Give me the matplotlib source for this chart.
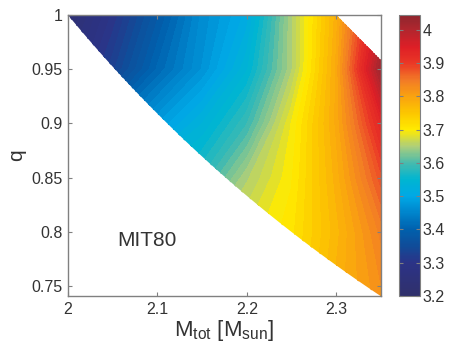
import numpy as np
import matplotlib
matplotlib.use("Agg")
import matplotlib.pyplot as plt
from matplotlib.colors import LinearSegmentedColormap, Normalize
from matplotlib.patches import Polygon
import matplotlib.cm as cm

plt.rcParams['font.family'] = ['Liberation Sans', 'DejaVu Sans']
plt.rcParams['mathtext.fontset'] = 'custom'
plt.rcParams['mathtext.rm'] = 'Liberation Sans'
plt.rcParams['mathtext.it'] = 'Liberation Sans:italic'

# ---- data ----
M_grid = [2.0, 2.05, 2.1, 2.15, 2.2, 2.25, 2.3, 2.35]
q_grid = [0.74, 0.8, 0.85, 0.9, 0.95, 1.0]
Z_q074 = [3.55, 3.58, 3.62, 3.66, 3.69, 3.72, 3.78, 3.82]
Z_q080 = [3.50, 3.55, 3.60, 3.64, 3.68, 3.71, 3.77, 3.84]
Z_q085 = [3.45, 3.50, 3.55, 3.58, 3.65, 3.70, 3.78, 3.88]
Z_q090 = [3.36, 3.42, 3.48, 3.53, 3.59, 3.69, 3.79, 3.93]
Z_q095 = [3.26, 3.33, 3.41, 3.47, 3.54, 3.65, 3.79, 4.02]
Z_q100 = [3.23, 3.30, 3.38, 3.46, 3.51, 3.65, 3.78, 3.97]
m2_min = 1.0
m2_max = 1.15
cbar_ticks = [3.2, 3.3, 3.4, 3.5, 3.6, 3.7, 3.8, 3.9, 4.0]
x_ticks = [2.0, 2.1, 2.2, 2.3]
y_ticks = [0.75, 0.8, 0.85, 0.9, 0.95, 1.0]
vmin, vmax = 3.2, 4.045

Z = np.array([Z_q074, Z_q080, Z_q085, Z_q090, Z_q095, Z_q100])
Mg, Qg = np.meshgrid(M_grid, q_grid)

stops = [
    (0.000, (0.19, 0.19, 0.42)),
    (0.118, (0.17, 0.20, 0.53)),
    (0.178, (0.06, 0.30, 0.60)),
    (0.237, (0.00, 0.38, 0.68)),
    (0.296, (0.00, 0.52, 0.80)),
    (0.355, (0.00, 0.66, 0.90)),
    (0.414, (0.00, 0.71, 0.82)),
    (0.473, (0.28, 0.73, 0.68)),
    (0.533, (0.68, 0.81, 0.48)),
    (0.592, (1.00, 0.92, 0.00)),
    (0.651, (0.99, 0.78, 0.00)),
    (0.710, (0.98, 0.64, 0.06)),
    (0.769, (0.95, 0.48, 0.15)),
    (0.828, (0.92, 0.22, 0.15)),
    (0.888, (0.87, 0.12, 0.15)),
    (0.947, (0.70, 0.15, 0.18)),
    (1.000, (0.56, 0.15, 0.18)),
]
cmap = LinearSegmentedColormap.from_list("printjet", stops)
norm = Normalize(vmin=vmin, vmax=vmax)

fig = plt.figure(figsize=(4.63, 3.57), dpi=100)
ax = fig.add_axes([68/463, 1-296/357, (381-68)/463, (296-15)/357])
cax = fig.add_axes([399/463, 1-296/357, 21/463, (296-15)/357])

levels = np.linspace(vmin, vmax, 70)
cs = ax.contourf(Mg, Qg, Z, levels=levels, cmap=cmap, norm=norm)
cs.set_edgecolor('face')
cs.set_linewidth(0.6)

# domain: m2_min <= m2 <= m2_max, q<=1
Mx = 2.35
q_low = lambda M: m2_min / (M - m2_min)
q_high = lambda M: m2_max / (M - m2_max)
Mc = 2 * m2_max
curve_M = np.linspace(Mx, 2 * m2_min, 60)
verts = [(2 * m2_min, 1.0), (Mc, 1.0), (Mx, q_high(Mx))]
verts += [(m, q_low(m)) for m in curve_M]
poly = Polygon(verts, closed=True, transform=ax.transData, facecolor='none', edgecolor='none')
ax.add_patch(poly)
cs.set_clip_path(poly)

ax.set_xlim(2.0, 2.35)
ax.set_ylim(0.741, 1.0)
ax.set_xticks(x_ticks)
ax.set_xticklabels(['2', '2.1', '2.2', '2.3'])
ax.set_yticks(y_ticks)
ax.set_yticklabels(['0.75', '0.8', '0.85', '0.9', '0.95', '1'])
gray = '#808080'
for a in (ax, cax):
    for s in a.spines.values():
        s.set_color(gray)
        s.set_linewidth(1.0)
ax.tick_params(direction='in', length=3, color=gray, labelsize=11.5,
               labelcolor='#333333', top=True, right=True, pad=4)
ax.set_xlabel(r'M$_{\rm tot}$ [M$_{\rm sun}$]', fontsize=16, color='#333333', labelpad=1)
ax.set_ylabel('q', fontsize=15, color='#333333', labelpad=4)
ax.text(2.088, 0.792, 'MIT80', fontsize=15, color='#333333', ha='center', va='center')

sm = cm.ScalarMappable(norm=norm, cmap=cmap)
cb = fig.colorbar(sm, cax=cax)
cb.set_ticks(cbar_ticks)
cb.set_ticklabels(['3.2', '3.3', '3.4', '3.5', '3.6', '3.7', '3.8', '3.9', '4'])
cb.outline.set_edgecolor(gray)
cax.tick_params(direction='in', length=3, color=gray, labelsize=11.5,
                labelcolor='#333333', left=True, right=True, pad=2)

fig.savefig('out.png', dpi=100)
